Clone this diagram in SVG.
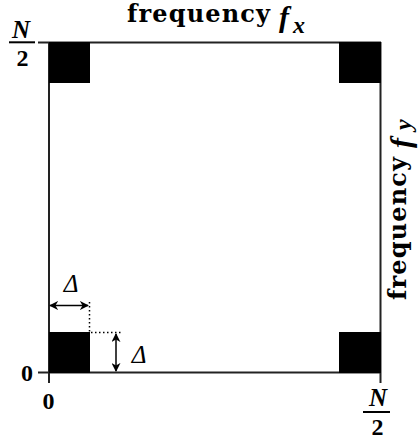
<svg xmlns="http://www.w3.org/2000/svg" width="418" height="441" viewBox="0 0 418 441">
<style>
.frame{stroke:#222;stroke-width:2;fill:none}
.blk{fill:#000}
.lbl{font-family:"DejaVu Serif","Liberation Serif",serif;font-weight:bold;font-size:24px;fill:#000}
.it{font-family:"Liberation Serif",serif;font-style:italic;font-weight:bold;fill:#000}
.num{font-family:"Liberation Serif",serif;font-weight:bold;font-size:24px;fill:#000}
.dlt{font-family:"Liberation Serif",serif;font-style:italic;font-size:25px;fill:#000}
.dot{stroke:#000;stroke-width:1.5;stroke-dasharray:1.5 2.5;fill:none}
.arr{stroke:#000;stroke-width:1.5;fill:none;marker-start:url(#ah);marker-end:url(#ah)}
</style>
<defs>
<marker id="ah" viewBox="0 0 10 10" refX="9" refY="5" markerWidth="9" markerHeight="9" markerUnits="userSpaceOnUse" orient="auto-start-reverse">
<path d="M0,0 L10,5 L0,10 L3,5 Z" fill="#000"/>
</marker>
</defs>
<rect width="418" height="441" fill="#fff"/>
<g id="frame">
<line class="frame" x1="38" y1="42.5" x2="381" y2="42.5"/>
<line class="frame" x1="38" y1="372.5" x2="381" y2="372.5"/>
<line class="frame" x1="49" y1="42" x2="49" y2="383"/>
<line class="frame" x1="380.5" y1="42" x2="380.5" y2="383"/>
</g>
<g id="square-tl"><rect class="blk" x="49" y="42" width="41" height="41"/></g>
<g id="square-tr"><rect class="blk" x="339" y="42" width="42" height="41"/></g>
<g id="square-bl"><rect class="blk" x="49" y="332" width="41" height="41"/></g>
<g id="square-br"><rect class="blk" x="339" y="332" width="42" height="41"/></g>
<g id="connectors">
<line class="dot" x1="89.5" y1="302" x2="89.5" y2="332"/>
<line class="dot" x1="91" y1="332.5" x2="123" y2="332.5"/>
<line class="arr" x1="50" y1="305.5" x2="88" y2="305.5"/>
<line class="arr" x1="116" y1="334" x2="116" y2="371"/>
</g>
<g id="title-x" transform="translate(127,22)">
<text class="lbl" x="0" y="0" textLength="143" lengthAdjust="spacing">frequency</text>
<text class="it" x="152" y="5" font-size="30">f</text>
<text class="it" x="166" y="11" font-size="24">x</text>
</g>
<g id="title-y" transform="translate(406,300) rotate(-90)">
<text class="lbl" x="0" y="0" textLength="143" lengthAdjust="spacing">frequency</text>
<text class="it" x="152" y="5" font-size="30">f</text>
<text class="it" x="170" y="5" font-size="24">y</text>
</g>
<g id="label-n2-top">
<text class="it" x="21" y="38" font-size="25" text-anchor="middle">N</text>
<line x1="9" y1="42.3" x2="35" y2="42.3" stroke="#000" stroke-width="2"/>
<text class="num" x="22.5" y="66" text-anchor="middle">2</text>
</g>
<g id="label-n2-right">
<text class="it" x="378" y="406" font-size="25" text-anchor="middle">N</text>
<line x1="363" y1="412" x2="390" y2="412" stroke="#000" stroke-width="2"/>
<text class="num" x="377.5" y="435" text-anchor="middle">2</text>
</g>
<g id="label-zero-y"><text class="num" x="27" y="381" text-anchor="middle">0</text></g>
<g id="label-zero-x"><text class="num" x="48.5" y="409" text-anchor="middle">0</text></g>
<g id="label-delta-h"><text class="dlt" x="71" y="292" text-anchor="middle">Δ</text></g>
<g id="label-delta-v"><text class="dlt" x="139" y="363" text-anchor="middle">Δ</text></g>
</svg>
